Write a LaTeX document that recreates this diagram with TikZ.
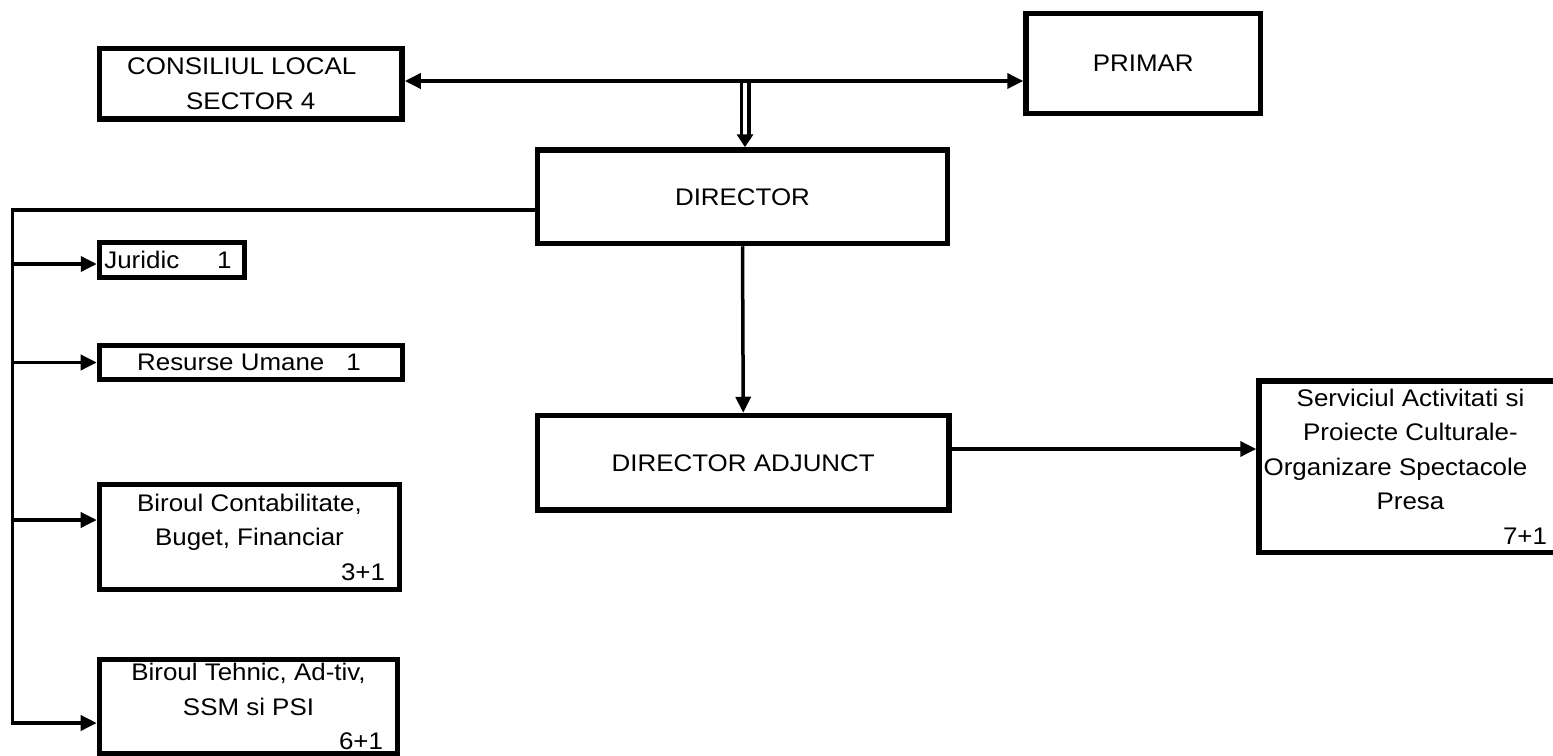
\documentclass[tikz,border=0pt]{standalone}
\usepackage{fontspec}
\setmainfont{Liberation Sans}[FakeStretch=1.08]
\usetikzlibrary{arrows.meta}
\begin{document}
\begin{tikzpicture}[x=1bp,y=-1bp,
  box/.style={draw, line width=5.5bp, rectangle, inner sep=0pt, align=center,
    font=\fontsize{24bp}{34.5bp}\selectfont},
  conn/.style={line width=3.5bp},
  tip/.style={Triangle[length=16bp,width=15bp]},
  arr/.style={conn, -{Triangle[length=16bp,width=15bp]}},
  dbl/.style={line width=3.5bp}]
\fill[white] (0,0) rectangle (1553,756);
\useasboundingbox (0,0) rectangle (1553,756);

% boxes
\node[box, minimum width=302.5bp, minimum height=70.5bp] (cons) at (250.75,83.75)
  {CONSILIUL LOCAL\rule{18bp}{0pt}\\SECTOR 4};
\node[box, minimum width=234.5bp, minimum height=100bp] (primar) at (1143.25,63.5) {PRIMAR};
\node[box, minimum width=410bp, minimum height=93.5bp] (director) at (742.5,196.75) {DIRECTOR};
\node[box, minimum width=411.5bp, minimum height=94.5bp] (adjunct) at (743.25,462.75) {DIRECTOR ADJUNCT};
\node[box, minimum width=303bp, minimum height=171.5bp] (serv) at (1410.5,466.75)
  {Serviciul Activitati si\\Proiecte Culturale-\\Organizare Spectacole\rule{30bp}{0pt}\\Presa\\\makebox[273bp][r]{7+1}};
\node[box, minimum width=145bp, minimum height=35bp] (juridic) at (172,260)
  {Juridic\hspace{38bp}1\rule{8bp}{0pt}};
\node[box, minimum width=303bp, minimum height=34bp] (resurse) at (251,362.5)
  {Resurse Umane\hspace{22bp}1\rule{4bp}{0pt}};
\node[box, minimum width=300bp, minimum height=105bp] (contab) at (249.5,537)
  {Biroul Contabilitate,\\Buget, Financiar\\\makebox[271bp][r]{3+1}};
\node[box, minimum width=298bp, minimum height=94.5bp] (tehnic) at (248.5,706.75)
  {Biroul Tehnic, Ad-tiv,\\SSM si PSI\\\makebox[269bp][r]{6+1}};

% coordinates
\coordinate (ty) at (700,81);
\coordinate (ry) at (1100,449);
\coordinate (bustop) at (12.5,210);
\coordinate (bj) at (12.5,264);
\coordinate (bc) at (12.5,520);
\coordinate (busbot) at (12.5,723);

% top connector
\draw[conn, {Triangle[length=16bp,width=15bp]}-{Triangle[length=16bp,width=15bp]}]
  (ty -| cons.east) -- (ty -| primar.west);
\draw[dbl] (741.3,81) -- (741.3,139);
\draw[dbl] (748.8,81) -- (748.8,139);
\draw[conn, -{Triangle[length=13bp,width=16bp]}] (745,136) -- ([xshift=2.5bp]director.north);

% director to adjunct
\draw[arr] (director.south) -- (adjunct.north);
% adjunct to serviciul
\draw[arr] (ry -| adjunct.east) -- (ry -| serv.west);

% left bus
\draw[arr] (bustop -| director.west) -- (bustop) -- (busbot) -- (busbot -| tehnic.west);
\draw[arr] (bj) -- (bj -| juridic.west);
\draw[arr] (resurse.west -| bustop) -- (resurse.west);
\draw[arr] (bc) -- (bc -| contab.west);
\end{tikzpicture}
\end{document}
